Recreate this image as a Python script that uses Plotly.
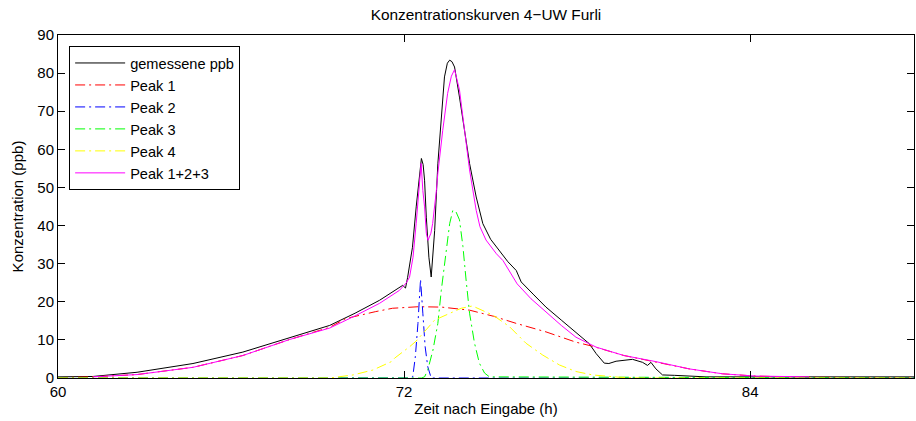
import plotly.graph_objects as go

# ---- data ----
meas_x = [60.0, 61.21, 62.74, 64.68, 66.41, 68.03, 69.42, 70.3, 71.15, 71.95, 72.05, 72.12, 72.29,
          72.42, 72.51, 72.60, 72.66, 72.71, 72.77, 72.86, 72.94, 73.0, 73.06, 73.17, 73.29, 73.40,
          73.50, 73.58, 73.66, 73.75, 73.92, 74.10, 74.27, 74.50, 74.73, 75.0, 75.31, 75.6, 75.89,
          76.06, 76.5, 76.92, 77.45, 77.96, 78.42, 78.66, 78.94, 79.1, 79.35, 79.92, 80.27, 80.44,
          80.56, 80.73, 80.96, 81.37, 82.47, 89.68]
meas_y = [0.3, 0.4, 1.5, 3.8, 6.8, 10.5, 13.8, 17.0, 20.4, 24.3, 23.6, 26.3, 34.3,
          44.9, 51.0, 57.6, 56.0, 51.9, 42.2, 31.7, 26.5, 31.7, 38.7, 56.2, 69.4, 79.0,
          82.6, 83.4, 83.0, 81.6, 73.7, 65.0, 56.3, 47.5, 40.5, 36.4, 33.2, 30.5, 28.2,
          25.2, 21.8, 18.6, 15.2, 12.0, 9.0, 6.4, 3.9, 3.8, 4.4, 4.9, 4.1, 3.3,
          4.1, 2.4, 0.8, 0.7, 0.3, 0.3]

p1_x = [60.0, 61.21, 62.74, 64.68, 66.41, 68.03, 69.42, 69.98, 71.0, 71.6, 72.5, 73.3,
        74.27, 75.1, 75.9, 76.92, 77.96, 78.5, 79.62, 80.73, 81.88, 83.04, 84.19, 86.0, 89.68]
p1_y = [0.1, 0.3, 0.9, 2.8, 5.9, 10.1, 13.3, 15.6, 17.4, 18.3, 18.7, 18.6,
        17.8, 16.2, 14.3, 12.1, 9.4, 8.4, 5.9, 4.2, 2.4, 1.1, 0.5, 0.2, 0.05]

p2_x = [60.0, 72.20, 72.30, 72.39, 72.48, 72.57, 72.65, 72.73, 72.82, 72.94, 89.68]
p2_y = [0.0, 0.0, 0.3, 5.6, 14.3, 25.9, 17.0, 8.2, 3.0, 0.0, 0.0]

p3_x = [60.0, 72.60, 72.71, 72.82, 73.0, 73.17, 73.29, 73.46, 73.58, 73.69, 73.80, 73.92, 74.04,
        74.15, 74.27, 74.44, 74.61, 74.79, 74.96, 89.68]
p3_y = [0.0, 0.0, 0.3, 2.1, 7.3, 14.3, 23.0, 33.6, 40.5, 44.0, 43.6, 41.5, 34.5,
        25.7, 17.0, 9.2, 3.9, 1.3, 0.3, 0.0]

p4_x = [60.0, 69.42, 70.23, 70.92, 71.56, 71.67, 72.19, 72.42, 73.06, 73.98, 74.37,
        75.08, 75.65, 76.23, 76.81, 77.39, 77.96, 78.54, 79.46, 80.2, 89.68]
p4_y = [0.0, 0.0, 0.8, 2.1, 4.3, 5.2, 8.2, 9.7, 15.2, 18.3, 18.9,
        16.5, 13.5, 9.1, 6.0, 3.4, 1.7, 0.8, 0.2, 0.0, 0.0]

sum_x = [61.21, 62.74, 64.68, 66.41, 68.03, 69.42, 70.3, 71.15, 71.84, 72.08, 72.19, 72.31,
         72.42, 72.51, 72.59, 72.65, 72.71, 72.77, 72.83, 72.93, 72.99, 73.12, 73.17,
         73.34, 73.51, 73.64, 73.75, 73.92, 74.10, 74.27, 74.50, 74.63, 74.84, 75.20, 75.43,
         75.92, 76.4, 76.92, 77.45, 77.96, 78.66, 79.62, 80.73, 81.88, 83.04, 84.19, 84.89, 86.04]
sum_y = [0.3, 0.9, 2.8, 5.9, 10.1, 13.1, 16.3, 19.6, 23.0, 25.0, 26.5, 31.7,
         40.6, 49.2, 56.3, 49.2, 44.9, 38.0, 36.1, 38.0, 40.5, 49.2, 53.7,
         65.0, 74.7, 79.2, 80.9, 75.6, 65.0, 54.6, 44.0, 39.7, 36.2, 32.6, 30.8,
         24.7, 20.8, 17.3, 13.8, 10.7, 8.1, 5.9, 4.3, 2.4, 1.1, 0.5, 0.4, 0.3]

x_ticks = [60, 72, 84]
y_ticks = [0, 10, 20, 30, 40, 50, 60, 70, 80, 90]

FONT = "Liberation Sans, Arial, Helvetica, sans-serif"
DASH = "10px,4px,2px,4px"

fig = go.Figure()
fig.add_trace(go.Scatter(x=meas_x, y=meas_y, mode="lines", name="gemessene ppb",
                         line=dict(color="#000000", width=1)))
fig.add_trace(go.Scatter(x=p1_x, y=p1_y, mode="lines", name="Peak 1",
                         line=dict(color="#ff0000", width=1, dash=DASH)))
fig.add_trace(go.Scatter(x=p2_x, y=p2_y, mode="lines", name="Peak 2",
                         line=dict(color="#0000ff", width=1, dash=DASH)))
fig.add_trace(go.Scatter(x=p3_x, y=p3_y, mode="lines", name="Peak 3",
                         line=dict(color="#00ff00", width=1, dash=DASH)))
fig.add_trace(go.Scatter(x=p4_x, y=p4_y, mode="lines", name="Peak 4",
                         line=dict(color="#ffff00", width=1, dash=DASH)))
fig.add_trace(go.Scatter(x=sum_x, y=sum_y, mode="lines", name="Peak 1+2+3",
                         line=dict(color="#ff00ff", width=1)))

fig.update_layout(
    width=916, height=421,
    margin=dict(l=58, r=2, t=35, b=43),
    paper_bgcolor="white", plot_bgcolor="white",
    font=dict(family=FONT, size=15, color="black"),
    title=dict(text="Konzentrationskurven 4−UW Furli", x=0.5, xref="paper",
               xanchor="center", y=1 - 15 / 421, yref="container", yanchor="middle",
               font=dict(size=15.4)),
    showlegend=True,
    legend=dict(x=0.013, y=0.968, xanchor="left", yanchor="top",
                bgcolor="white", bordercolor="black", borderwidth=1,
                font=dict(size=14.6), itemwidth=50, tracegroupgap=0),
)
fig.update_xaxes(range=[60, 89.68], tickvals=x_ticks, ticktext=[str(v) for v in x_ticks],
                 ticks="inside", ticklen=7, tickcolor="black", showline=True,
                 linecolor="black", linewidth=1, mirror="ticks", showgrid=False,
                 zeroline=False, tickfont=dict(size=15),
                 title=dict(text="Zeit nach Eingabe (h)", standoff=4, font=dict(size=15)))
fig.update_yaxes(range=[0, 90], tickvals=y_ticks, ticktext=[str(v) for v in y_ticks],
                 ticks="inside", ticklen=7, tickcolor="black", showline=True,
                 linecolor="black", linewidth=1, mirror="ticks", showgrid=False,
                 zeroline=False, tickfont=dict(size=15),
                 title=dict(text="Konzentration (ppb)", standoff=10, font=dict(size=15)))

fig.write_html("out.html")
